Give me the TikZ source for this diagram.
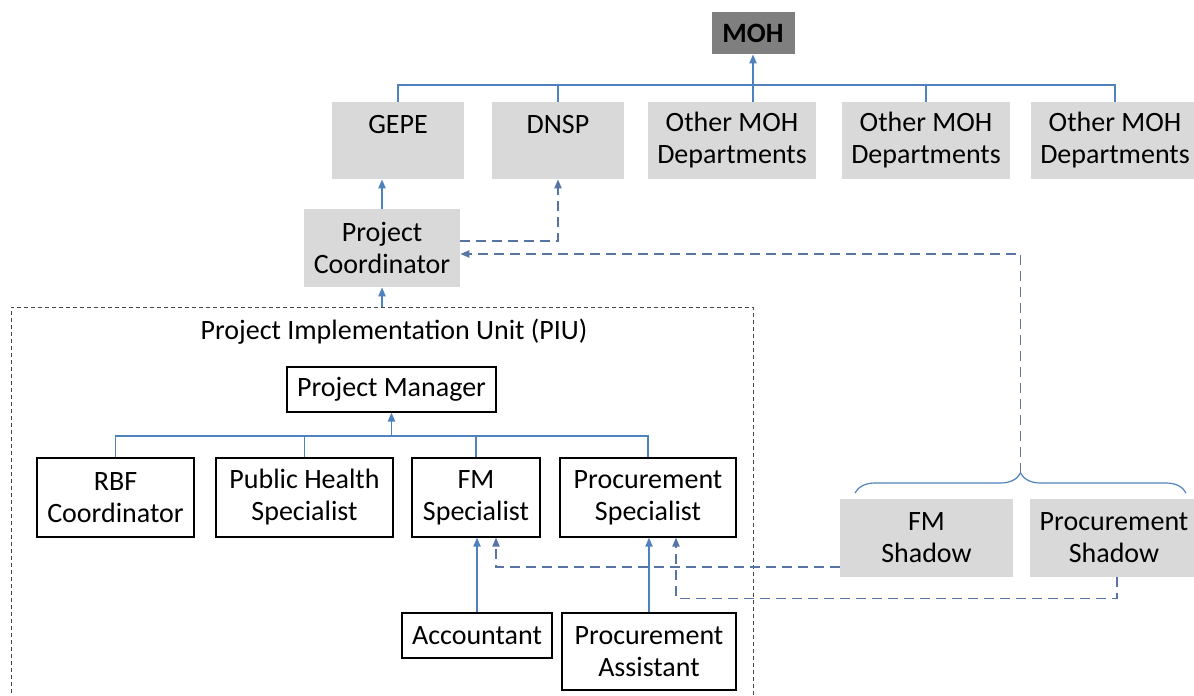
\documentclass[tikz,border=0pt]{standalone}
\usepackage{fontspec}
\setmainfont{Carlito}
\usetikzlibrary{arrows.meta,decorations.pathreplacing}

\definecolor{linkblue}{RGB}{79,129,189}
\definecolor{dashblue}{RGB}{88,116,164}
\definecolor{boxgrey}{RGB}{217,217,217}
\definecolor{mohgrey}{RGB}{127,127,127}
\definecolor{framegrey}{RGB}{70,70,70}

\tikzset{
    orgbox/.style={draw=black, line width=0.6pt, fill=white, align=center, inner sep=0pt},
    greybox/.style={fill=boxgrey, align=center, inner sep=0pt},
    conn/.style={draw=linkblue, line width=0.8pt},
    dconn/.style={draw=dashblue, line width=0.8pt, dash pattern=on 5pt off 3pt},
    arr/.style={-{Triangle[length=4.5pt,width=3.6pt]}},
    piuframe/.style={draw=framegrey, line width=0.5pt, dash pattern=on 2pt off 1.5pt}
}

\begin{document}
\begin{tikzpicture}[x=0.5pt, y=-0.5pt, font=\fontsize{14}{16}\selectfont]
                \useasboundingbox (0,0) rectangle (1194,696);
                \clip (0,0) rectangle (1194,696);

                % ministry and departments
                \node[greybox, fill=mohgrey, minimum width=41.5pt, minimum height=21pt] (moh) at (753,33) {\bfseries MOH};
                \node[greybox, minimum width=66pt, minimum height=38.5pt] (gepe) at (398,140.5) {GEPE\\~};
                \node[greybox, minimum width=66pt, minimum height=38.5pt] (dnsp) at (558,140.5) {DNSP\\~};
                \node[greybox, minimum width=84pt, minimum height=38.5pt] (oth1) at (732,140.5) {Other MOH\\Departments};
                \node[greybox, minimum width=84pt, minimum height=38.5pt] (oth2) at (926,140.5) {Other MOH\\Departments};
                \node[greybox, minimum width=84pt, minimum height=38.5pt] (oth3) at (1115,140.5) {Other MOH\\Departments};

                \coordinate (topbus) at (398,85);
                \draw[conn] (gepe.north) -- (gepe.north |- topbus) -| (oth3.north);
                \foreach \n in {dnsp,oth2}
                    \draw[conn] (\n.north) -- (\n.north |- topbus);
                \draw[conn, arr] (moh.south |- oth1.north) -- (moh.south);

                % coordinator
                \node[greybox, minimum width=78pt, minimum height=39pt] (pc) at (382,248) {Project\\Coordinator};
                \draw[conn, arr] (pc.north) -- (pc.north |- gepe.south);
                \draw[dconn, arr] ([yshift=3.5pt]pc.east) -| (dnsp.south);

                % PIU
                \coordinate (piunw) at (11,307);
                \coordinate (piune) at (753,307);
                \draw[piuframe] (11,700) -- (piunw) -- (piune) -- (753,700);
                \draw[conn, arr] (pc.south |- piunw) -- (pc.south);
                \node (piu) at (394,332) {Project Implementation Unit (PIU)};

                \node[orgbox, minimum width=104.5pt, minimum height=22.5pt] (pm) at (391.5,389.5) {Project Manager};
                \node[orgbox, minimum width=78.5pt, minimum height=39.5pt] (rbf) at (115.5,497.5) {RBF\\Coordinator};
                \node[orgbox, minimum width=88.5pt, minimum height=39.5pt] (phs) at (304.5,497.5) {Public Health\\Specialist};
                \node[orgbox, minimum width=64pt, minimum height=39.5pt] (fms) at (476,497.5) {FM\\Specialist};
                \node[orgbox, minimum width=88pt, minimum height=39.5pt] (prs) at (648,497.5) {Procurement\\Specialist};

                \coordinate (piubus) at (0,436);
                \draw[conn] (rbf.north) -- (rbf.north |- piubus) -| (prs.north);
                \foreach \n in {phs,fms}
                    \draw[conn] (\n.north) -- (\n.north |- piubus);
                \draw[conn, arr] (pm.south |- piubus) -- (pm.south);

                \node[orgbox, minimum width=75pt, minimum height=22.5pt] (acc) at (477,635.5) {Accountant};
                \node[orgbox, minimum width=87pt, minimum height=38.5pt] (pra) at (649,651.5) {Procurement\\Assistant};
                \draw[conn, arr] (acc.north) -- (acc.north |- fms.south);
                \draw[conn, arr] (pra.north) -- (pra.north |- prs.south);

                % shadow staff
                \node[greybox, minimum width=86.5pt, minimum height=39pt] (fmsh) at (926.5,538) {FM\\Shadow};
                \node[greybox, minimum width=84pt, minimum height=39pt] (prsh) at (1114,538) {Procurement\\Shadow};

                \coordinate (brl) at (855,493);
                \coordinate (brr) at (1186,493);
                \coordinate (bratip) at (1020.5,473);
                \draw[draw=linkblue, line width=0.6pt, decorate, decoration={brace, amplitude=10pt}] (brl) -- (brr);

                \draw[dconn, arr] (bratip) |- ([yshift=-3pt]pc.east);
                \draw[dconn, arr] ([yshift=-14.5pt]fmsh.west) -| ([xshift=10pt]fms.south);
                \draw[dconn, arr] ([xshift=1.5pt]prsh.south) -- ++(0,21) -| ([xshift=14pt]prs.south);
\end{tikzpicture}
\end{document}
